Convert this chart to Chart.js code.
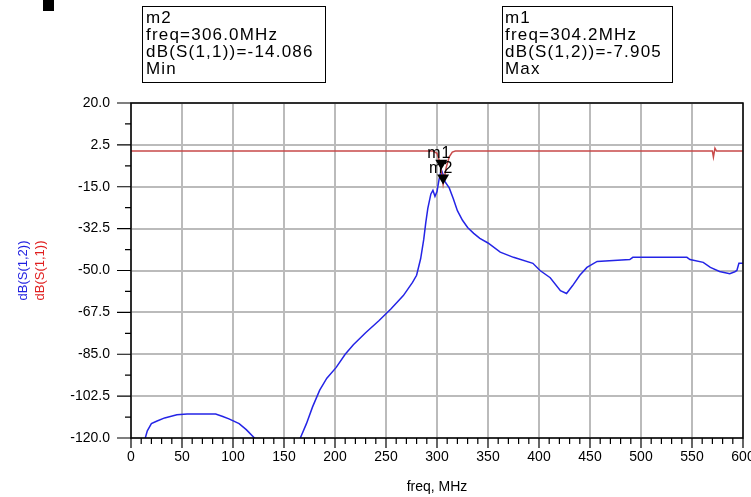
<!DOCTYPE html>
<html>
<head>
<meta charset="utf-8">
<script src="https://cdn.jsdelivr.net/npm/chart.js@4"></script>
<style>
  html, body { margin: 0; padding: 0; background: #fff; }
  canvas { display: block; }
</style>
</head>
<body>
<canvas id="grafico" width="751" height="497"></canvas>
<script>
// ─── dados ───────────────────────────────────────────────
const xTicks = [0, 50, 100, 150, 200, 250, 300, 350, 400, 450, 500, 550, 600];
const yTicks = [-120, -102.5, -85, -67.5, -50, -32.5, -15, 2.5, 20];

// dB(S(1,2)) - azul
const s12Freq = [8, 14, 16, 20, 25, 33, 45, 55, 83, 90,
  96, 106, 113, 121, 140, 166, 172, 178, 185, 192,
  201, 210, 218, 230, 243, 255, 267, 276, 280, 284,
  287, 289, 291, 294, 296, 298, 300, 302, 304.2, 306,
  308, 312, 316, 320, 325, 330, 336, 342, 350, 362,
  375, 394, 401, 411, 421, 427, 433, 440, 447, 457,
  489, 492, 545, 548, 561, 568, 577, 587, 592, 594,
  596, 600];
const s12Db = [-126, -120, -117, -114, -113, -111.6, -110.3, -110, -110, -111,
  -112, -114, -116.5, -120, -135, -120, -114, -107, -100, -95,
  -90.6, -85, -81, -76, -71, -66, -60.5, -55, -52, -45,
  -37, -30, -24, -18, -16.5, -19, -17, -12, -7.9, -10,
  -13, -15.5, -20, -25, -29, -32, -34.5, -36.6, -38.5, -42.3,
  -44.5, -47, -50, -53, -58.4, -59.6, -56.3, -52, -48.7, -46.2,
  -45.4, -44.5, -44.5, -45.4, -46.6, -48.7, -50.4, -51.3, -50.5, -50,
  -47, -47];

// dB(S(1,1)) - vermelho
const s11Freq = [0, 296, 300, 303, 306, 309, 312, 315, 318, 570, 571, 572.5, 574, 600];
const s11Db = [-0.1, -0.1, -1, -5, -14.086, -7, -2.5, -0.5, -0.1, -0.1, -2.6, 1.1, -0.1, -0.1];

// marcadores
const markerNames = ['m1', 'm2'];
const markerFreq = [304.2, 306.0];
const markerDb = [-7.905, -14.086];
const markerBoxM2 = ['m2', 'freq=306.0MHz', 'dB(S(1,1))=-14.086', 'Min'];
const markerBoxM1 = ['m1', 'freq=304.2MHz', 'dB(S(1,2))=-7.905', 'Max'];

const FONT = '"Liberation Sans", Arial, sans-serif';

function pares(xs, ys) {
  return xs.map((x, i) => ({ x, y: ys[i] }));
}

// ─── plugin: moldura, ticks menores, textos extras ───────
const extras = {
  id: 'extras',
  afterDraw(chart) {
    const { ctx, chartArea: a, scales } = chart;
    const sx = scales.x, sy = scales.y;
    ctx.save();

    // moldura
    ctx.strokeStyle = '#000';
    ctx.lineWidth = 1.5;
    ctx.strokeRect(a.left, a.top, a.right - a.left, a.bottom - a.top);

    // ticks do eixo y
    ctx.lineWidth = 1.2;
    ctx.beginPath();
    yTicks.forEach((v, i) => {
      const y = sy.getPixelForValue(v);
      ctx.moveTo(a.left - 14, y); ctx.lineTo(a.left, y);
      if (i < yTicks.length - 1) {
        const ym = sy.getPixelForValue((v + yTicks[i + 1]) / 2);
        ctx.moveTo(a.left - 6, ym); ctx.lineTo(a.left, ym);
      }
    });
    // ticks do eixo x
    for (let f = 0; f <= 600; f += 10) {
      const x = sx.getPixelForValue(f);
      const len = f % 50 === 0 ? 10 : 6;
      ctx.moveTo(x, a.bottom); ctx.lineTo(x, a.bottom + len);
    }
    ctx.stroke();

    // marcadores
    markerNames.forEach((nome, i) => {
      const x = sx.getPixelForValue(markerFreq[i]);
      const y = sy.getPixelForValue(markerDb[i]);
      ctx.fillStyle = '#000';
      ctx.beginPath();
      ctx.moveTo(x, y);
      ctx.lineTo(x - 6, y - 10);
      ctx.lineTo(x + 6, y - 10);
      ctx.closePath();
      ctx.fill();
      ctx.font = '16px ' + FONT;
      ctx.letterSpacing = '1px';
      ctx.textAlign = 'left';
      ctx.textBaseline = 'alphabetic';
      ctx.fillText(nome, x - 14, y - 12);
      ctx.letterSpacing = '0px';
    });

    // caixas dos marcadores
    ctx.fillStyle = '#000';
    ctx.strokeStyle = '#000';
    ctx.lineWidth = 1;
    ctx.strokeRect(142.5, 6.5, 183, 76);
    ctx.strokeRect(502.5, 6.5, 170, 76);
    ctx.font = '17px ' + FONT;
    ctx.letterSpacing = '1.2px';
    ctx.textAlign = 'left';
    ctx.textBaseline = 'alphabetic';
    markerBoxM2.forEach((t, i) => ctx.fillText(t, 146, 23 + i * 17));
    markerBoxM1.forEach((t, i) => ctx.fillText(t, 505, 23 + i * 17));
    ctx.letterSpacing = '0px';

    // quadradinho preto
    ctx.fillRect(43, 0, 11, 11);

    // título do eixo x
    ctx.font = '14px ' + FONT;
    ctx.textAlign = 'center';
    ctx.textBaseline = 'middle';
    ctx.fillText('freq, MHz', (a.left + a.right) / 2, 487);

    // títulos do eixo y (girados)
    const cy = (a.top + a.bottom) / 2;
    ctx.font = '13px ' + FONT;
    [['dB(S(1,2))', '#1f1fe0', 23], ['dB(S(1,1))', '#e01f1f', 40]].forEach(([t, cor, x]) => {
      ctx.save();
      ctx.translate(x, cy);
      ctx.rotate(-Math.PI / 2);
      ctx.fillStyle = cor;
      ctx.fillText(t, 0, 0);
      ctx.restore();
    });

    ctx.restore();
  }
};

new Chart(document.getElementById('grafico'), {
  type: 'line',
  data: {
    datasets: [
      {
        label: 'dB(S(1,1))',
        data: pares(s11Freq, s11Db),
        borderColor: '#c84a4a',
        borderWidth: 1.5,
        pointRadius: 0,
        tension: 0
      },
      {
        label: 'dB(S(1,2))',
        data: pares(s12Freq, s12Db),
        borderColor: '#2424e6',
        borderWidth: 1.5,
        pointRadius: 0,
        tension: 0
      }
    ]
  },
  options: {
    responsive: false,
    animation: false,
    layout: { padding: { left: 0, top: 103, right: 8, bottom: 0 } },
    plugins: { legend: { display: false }, tooltip: { enabled: false } },
    scales: {
      x: {
        type: 'linear',
        min: 0,
        max: 600,
        afterBuildTicks: s => { s.ticks = xTicks.map(v => ({ value: v })); },
        afterFit: s => { s.height = 59; s.paddingLeft = 0; s.paddingRight = 0; },
        ticks: {
          color: '#000',
          font: { family: FONT, size: 14 },
          padding: 11,
          maxRotation: 0,
          autoSkip: false,
          callback: v => String(v)
        },
        grid: { color: '#bbbbbb', lineWidth: 2, drawTicks: false },
        border: { display: false }
      },
      y: {
        type: 'linear',
        min: -120,
        max: 20,
        afterBuildTicks: s => { s.ticks = yTicks.map(v => ({ value: v })); },
        afterFit: s => { s.width = 131; s.paddingTop = 0; s.paddingBottom = 0; },
        ticks: {
          color: '#000',
          font: { family: FONT, size: 14 },
          padding: 21,
          autoSkip: false,
          callback: v => v.toFixed(1)
        },
        grid: { color: '#bbbbbb', lineWidth: 2, drawTicks: false },
        border: { display: false }
      }
    }
  },
  plugins: [extras]
});
</script>
</body>
</html>
